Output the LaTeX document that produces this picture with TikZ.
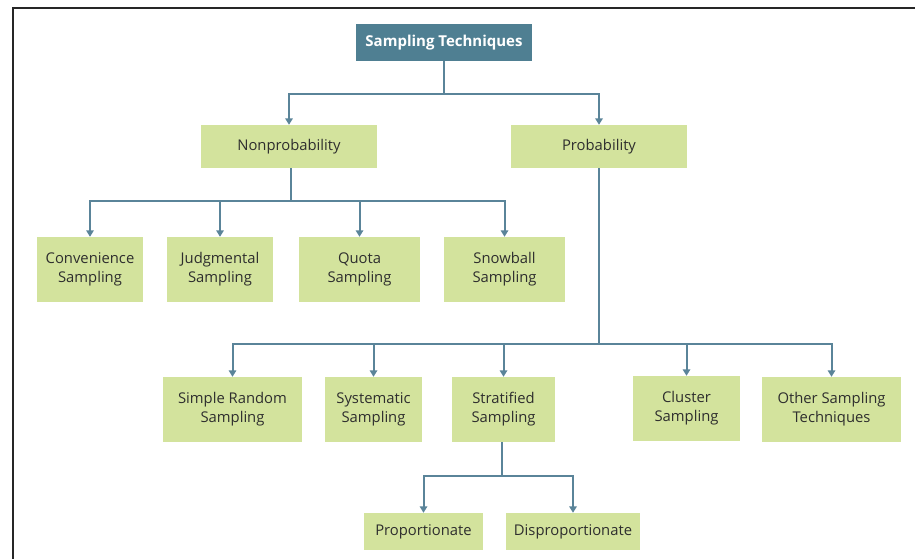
\documentclass[tikz,border=0pt]{standalone}
\usepackage{fontspec}
\setmainfont{Open Sans}
\usetikzlibrary{arrows.meta}
\definecolor{boxgreen}{HTML}{D3E39D}
\definecolor{teal}{HTML}{4F7F92}
\definecolor{linec}{HTML}{5A8499}
\definecolor{txt}{HTML}{2E2E2E}
\tikzset{
  x=1pt, y=1pt,
  box/.style={rectangle, fill=boxgreen, draw=none, inner sep=0pt, text=txt, align=center,
    font=\fontsize{14.8}{19}\selectfont},
  rootbox/.style={rectangle, fill=teal, draw=none, inner sep=0pt, text=white,
    font=\fontsize{15}{19}\selectfont\bfseries},
  conn/.style={draw=linec, line width=2pt},
  arr/.style={conn, -{Triangle[width=7.5pt,length=6.5pt]}},
}
\begin{document}
\begin{tikzpicture}
\useasboundingbox (0,0) rectangle (915,-559);
\fill[white] (0,0) rectangle (915,-559);
% frame
\draw[line width=2.2pt, black!85] (13,-559) -- (13,-8) -- (915,-8);
% nodes
\node[rootbox, minimum width=176pt, minimum height=37pt] (root) at (444,-42.5) {Sampling Techniques};
\node[box, minimum width=176pt, minimum height=43pt] (nonp) at (289,-146.5) {Nonprobability};
\node[box, minimum width=176pt, minimum height=43pt] (prob) at (599,-146.5) {Probability};
\node[box, minimum width=106pt, minimum height=65pt] (conv) at (90,-269.5) {Convenience\\Sampling};
\node[box, minimum width=106pt, minimum height=65pt] (judg) at (220,-269.5) {Judgmental\\Sampling};
\node[box, minimum width=121pt, minimum height=65pt] (quota) at (359.5,-269.5) {Quota\\Sampling};
\node[box, minimum width=121pt, minimum height=65pt] (snow) at (504.5,-269.5) {Snowball\\Sampling};
\node[box, minimum width=139pt, minimum height=65pt] (srs) at (232.5,-409.5) {Simple Random\\Sampling};
\node[box, minimum width=97pt, minimum height=65pt] (sys) at (373.5,-409.5) {Systematic\\Sampling};
\node[box, minimum width=103pt, minimum height=65pt] (strat) at (503.5,-409.5) {Stratified\\Sampling};
\node[box, minimum width=107pt, minimum height=65pt] (clus) at (686.5,-408.5) {Cluster\\Sampling};
\node[box, minimum width=139pt, minimum height=65pt] (other) at (831.5,-409.5) {Other Sampling\\Techniques};
\node[box, minimum width=119pt, minimum height=37pt] (prop) at (423.5,-531.5) {Proportionate};
\node[box, minimum width=134pt, minimum height=37pt] (disp) at (573,-531.5) {Disproportionate};
% connectors
\coordinate (j1) at (444,-94);
\draw[conn] (root.south) -- (j1);
\draw[arr] (j1) -| (nonp.north);
\draw[arr] (j1) -| (prob.north);
\coordinate (j2) at (291,-201);
\draw[conn] (nonp.south -| j2) -- (j2);
\draw[arr] (j2) -| (conv.north);
\draw[arr] (j2) -| (judg.north);
\draw[arr] (j2) -| (quota.north);
\draw[arr] (j2) -| (snow.north);
\coordinate (j3) at (599,-344);
\draw[conn] (prob.south) -- (j3);
\draw[arr] (j3) -| (srs.north);
\draw[arr] (j3) -| (sys.north);
\draw[arr] (j3) -| (strat.north);
\draw[arr] (j3) -| (clus.north);
\draw[arr] (j3) -| (other.north);
\coordinate (j4) at (502,-476);
\draw[conn] (strat.south -| j4) -- (j4);
\draw[arr] (j4) -| (prop.north);
\draw[arr] (j4) -| (disp.north);
\end{tikzpicture}
\end{document}
